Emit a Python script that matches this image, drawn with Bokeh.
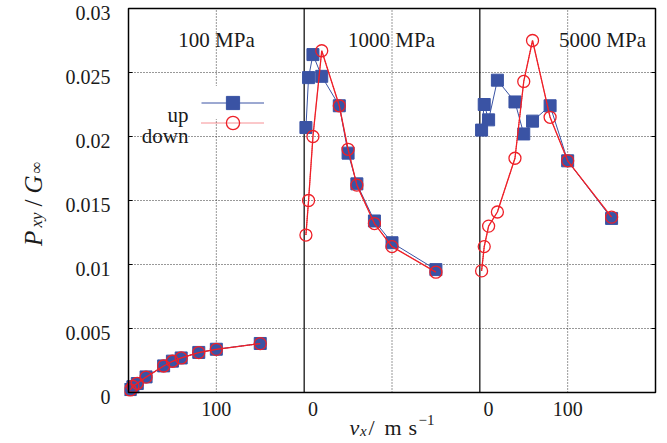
import math
from bokeh.plotting import figure
from bokeh.models import (Range1d, FixedTicker, Label, LabelSet, Legend,
                          LegendItem, ColumnDataSource)
from bokeh.layouts import row
from bokeh.core.properties import value
from bokeh.embed import file_html
from bokeh.resources import INLINE

# ---------------- data ----------------
velocity = [2, 5, 10, 20, 40, 50, 60, 80, 100, 150]          # v_x / m s^-1
pressures = ["100 MPa", "1000 MPa", "5000 MPa"]

up_100 = [0.00023, 0.00045, 0.0007, 0.00122, 0.00208, 0.00245, 0.0027, 0.00313, 0.00338, 0.00383]
down_100 = [0.0002, 0.00048, 0.00072, 0.0012, 0.00207, 0.00244, 0.0027, 0.00312, 0.00337, 0.00382]

up_1000 = [0.0207, 0.0246, 0.0264, 0.0247, 0.0224, 0.0187, 0.0163, 0.0134, 0.0117, 0.0096]
down_1000 = [0.0123, 0.0150, 0.0200, 0.0267, 0.0224, 0.0190, 0.0162, 0.0132, 0.0114, 0.0094]

up_5000 = [0.0205, 0.0225, 0.0213, 0.0244, 0.0227, 0.0202, 0.0212, 0.0224, 0.0181, 0.0136]
down_5000 = [0.0095, 0.0114, 0.0130, 0.0141, 0.0183, 0.0243, 0.0275, 0.0215, 0.0181, 0.0137]

y_ticks = [0, 0.005, 0.01, 0.015, 0.02, 0.025, 0.03]
y_tick_labels = ["0", "0.005", "0.01", "0.015", "0.02", "0.025", "0.03"]
x_ticks = [100, 210, 410, 500]
x_tick_labels = ["100", "0", "0", "100"]
x_grid = [100, 300, 500]
y_grid = [0.005, 0.01, 0.015, 0.02, 0.025]

# ---------------- layout / style ----------------
PANEL = 200                          # x-units per panel
XMAX, YMAX = 3 * PANEL, 0.03
W, H = 667, 443
YS_W = 48                            # strip holding the y title
FL, FR, FT, FB = 128, 655, 8, 392    # plot box edges in page pixels
CL, CR, CT = 124, 659, 4             # drawing area (slightly larger than the box)
BLUE = "#3a53a4"
RED = "#ee2028"
FONT = "Liberation Serif"
TXT = "#1a1a1a"
LABEL_DROP = 4.0                     # y tick labels sit a little below their grid line (px)
LABEL_SHIFT = LABEL_DROP * YMAX / (FB - FT)
TICK_LEN = 4                         # inward tick length (px)


def ux(px):
    return (px - FL) * XMAX / (FR - FL)


def vy(py):
    return (FB - py) * YMAX / (FB - FT)


# ---------------- main plot ----------------
p = figure(width=W - YS_W, height=H, output_backend="svg", toolbar_location=None,
           x_range=Range1d(ux(CL), ux(CR)), y_range=Range1d(vy(H), vy(CT)),
           x_axis_location=None,
           min_border_left=CL - YS_W, min_border_right=W - CR,
           min_border_top=CT, min_border_bottom=0)
p.background_fill_color = "white"
p.border_fill_color = "white"
p.outline_line_color = None
p.grid.visible = False

y_label_pos = [t - LABEL_SHIFT for t in y_ticks]
p.yaxis.ticker = FixedTicker(ticks=y_label_pos)
p.yaxis.major_label_overrides = dict(zip(y_label_pos, y_tick_labels))
p.yaxis.axis_line_color = None
p.yaxis.major_tick_line_color = None
p.yaxis.major_tick_in = 0
p.yaxis.major_tick_out = 0
p.yaxis.minor_tick_line_color = None
p.yaxis.minor_tick_out = 0
p.yaxis.major_label_standoff = FL - CL + 10
p.yaxis.major_label_text_font = FONT
p.yaxis.major_label_text_font_size = "20px"
p.yaxis.major_label_text_color = TXT

# dotted grid
p.segment(x0=x_grid, x1=x_grid, y0=[0] * len(x_grid), y1=[YMAX] * len(x_grid),
          line_color="#333333", line_width=1, line_dash="1 2")
p.segment(x0=[0] * len(y_grid), x1=[XMAX] * len(y_grid), y0=y_grid, y1=y_grid,
          line_color="#333333", line_width=1, line_dash="1 2")

# small inward ticks on the left and right edges
tick_dx = TICK_LEN * XMAX / (FR - FL)
p.segment(x0=[0] * len(y_grid), x1=[tick_dx] * len(y_grid), y0=y_grid, y1=y_grid,
          line_color="black", line_width=1)
p.segment(x0=[XMAX] * len(y_grid), x1=[XMAX - tick_dx] * len(y_grid), y0=y_grid,
          y1=y_grid, line_color="black", line_width=1)

# panel dividers
dividers = [PANEL, 2 * PANEL]
p.segment(x0=dividers, x1=dividers, y0=[0, 0], y1=[YMAX, YMAX],
          line_color="black", line_width=1.2)

panels = [(up_100, down_100), (up_1000, down_1000), (up_5000, down_5000)]
key_renderers = None
for k, (up, down) in enumerate(panels):
    xs = [v + k * PANEL for v in velocity]
    l_up = p.line(xs, up, line_color=BLUE, line_width=1)
    m_up = p.scatter(xs, up, marker="square", size=12, fill_color=BLUE, line_color=BLUE)
    l_dot = p.line(xs, down, line_color=RED, line_width=1, line_dash="1 1")
    p.line(xs, down, line_color=RED, line_width=1.3)
    m_dn = p.scatter(xs, down, marker="circle", size=12, fill_color=None,
                     line_color=RED, line_width=1.3)
    if key_renderers is None:
        key_renderers = ([l_up, m_up], [l_dot, m_dn])

# plot box
p.quad(left=[0], right=[XMAX], bottom=[0], top=[YMAX], fill_color=None,
       line_color="black", line_width=1.5)

# panel titles
title_x = [216, 391, 602]
for name, px in zip(pressures, title_x):
    p.add_layout(Label(x=ux(px), y=vy(39.5), text=name, text_align="center",
                       text_baseline="alphabetic", text_font=FONT,
                       text_font_size="21px", text_color=TXT))

# key: text on the left, sample on the right
for rends, py, bg in ((key_renderers[0], 119.2, 1.0),
                      (key_renderers[1], 139.2, 0.0)):
    lg = Legend(items=[LegendItem(label=value(" "), renderers=rends)],
                location=(201 - CL, H - py), orientation="vertical", padding=0,
                margin=0, spacing=0, glyph_width=63, glyph_height=33,
                label_standoff=0, label_width=0, label_height=0,
                label_text_font_size="1px",
                background_fill_color="white", background_fill_alpha=bg,
                border_line_color=None)
    p.add_layout(lg, "center")

for txt, py in (("up", 114), ("down", 135)):
    p.add_layout(Label(x=ux(188), y=vy(py), text=txt, text_align="right",
                       text_baseline="alphabetic", text_font=FONT,
                       text_font_size="21px", text_color=TXT))

# x tick labels
tick_src = ColumnDataSource(dict(x=x_ticks, text=x_tick_labels))
p.add_layout(LabelSet(source=tick_src, x="x", y=vy(415.7), text="text",
                      text_align="center", text_baseline="alphabetic",
                      text_font=value(FONT), text_font_size="20px",
                      text_color=TXT))

# x title: v_x/ m s^-1
xlab = [("v", 349, 427, "22px", "italic"),
        ("x", 359.5, 430, "15px", "italic"),
        ("/", 368, 427, "22px", "normal"),
        ("m", 384, 427, "22px", "normal"),
        ("s", 408, 427, "22px", "normal"),
        ("\u22121", 418, 419, "15px", "normal")]
for t, px, py, fs, st in xlab:
    p.add_layout(Label(x=ux(px), y=vy(py), text=t, text_align="left",
                       text_baseline="alphabetic", text_font=FONT,
                       text_font_size=fs, text_font_style=st, text_color=TXT))

# ---------------- strip on the left: y title ----------------
ys_fig = figure(width=YS_W, height=H, output_backend="svg", toolbar_location=None,
                x_range=Range1d(0, YS_W), y_range=Range1d(H, CT),
                x_axis_location=None, y_axis_location=None,
                min_border_left=0, min_border_right=0,
                min_border_top=CT, min_border_bottom=0)
ys_fig.outline_line_color = None
ys_fig.grid.visible = False
ys_fig.background_fill_color = "white"
ys_fig.border_fill_color = "white"

ylab = [("P", 33.3, 245.5, "25px", "italic"),
        ("xy", 35.5, 227, "17px", "italic"),
        ("/", 33.3, 206, "25px", "normal"),
        ("G", 33.3, 193, "25px", "italic"),
        ("\u221e", 36, 173, "17px", "normal")]
for t, px, py, fs, st in ylab:
    ys_fig.add_layout(Label(x=px, y=py, text=t, text_align="left",
                            text_baseline="alphabetic", angle=math.pi / 2,
                            text_font=FONT, text_font_size=fs, text_font_style=st,
                            text_color=TXT))

layout = row(ys_fig, p)
open("out.html", "w").write(file_html(layout, INLINE))
